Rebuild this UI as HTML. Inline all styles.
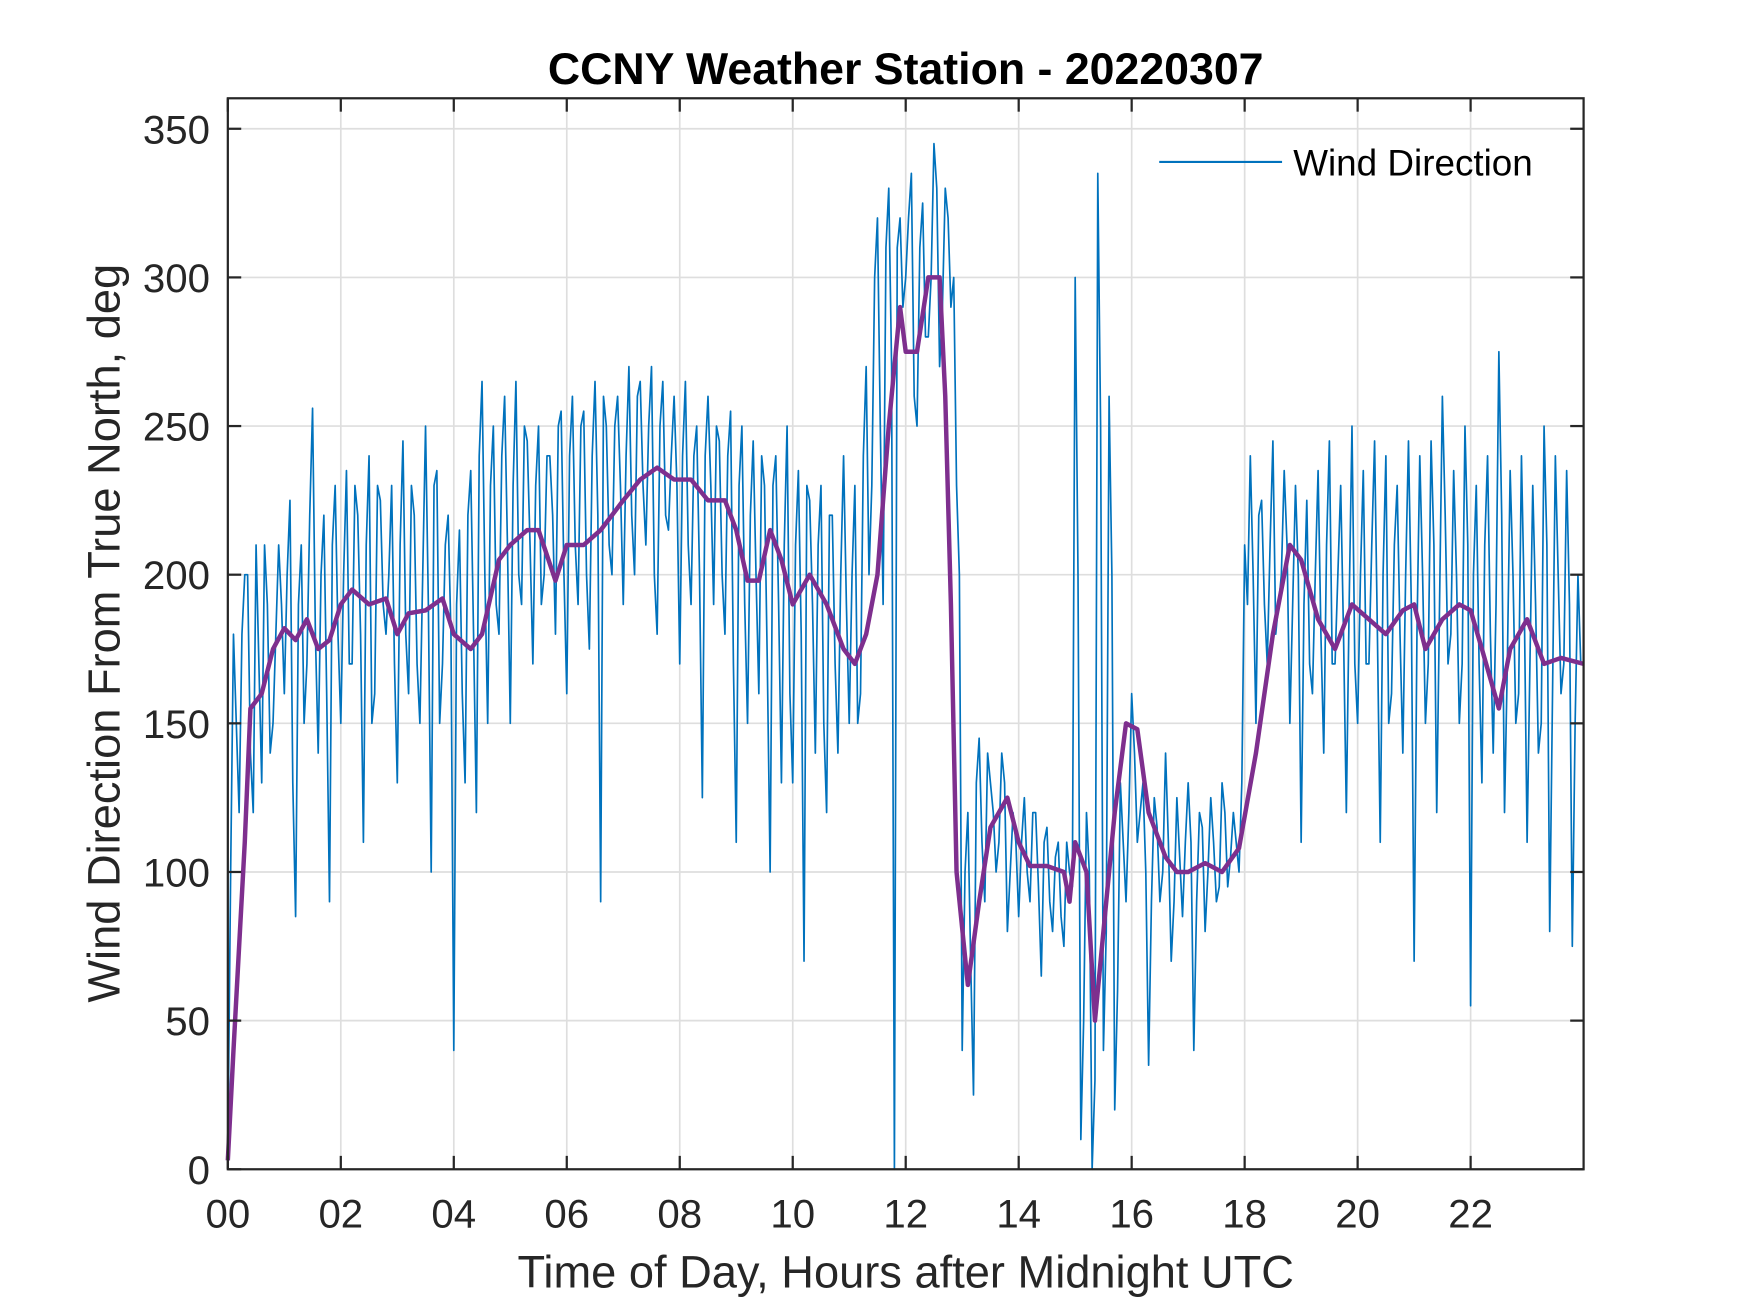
<!DOCTYPE html>
<html><head><meta charset="utf-8"><style>
html,body{margin:0;padding:0;background:#fff;}
svg{display:block;font-family:"Liberation Sans",Arial,sans-serif;}
</style></head><body>
<svg id="chart" width="1750" height="1313" viewBox="0 0 1567 1175.7" xmlns="http://www.w3.org/2000/svg">
<rect width="1567" height="1176" fill="#fff"/>
<g id="grid"></g>
<g id="series"></g>
<g id="axes"></g>
<text x="811" y="75" text-anchor="middle" font-size="40" font-weight="bold" fill="#000">CCNY Weather Station - 20220307</text>
<text x="811" y="1153" text-anchor="middle" font-size="40.5" fill="#262626">Time of Day, Hours after Midnight UTC</text>
<text transform="translate(107,567) rotate(-90)" text-anchor="middle" font-size="40.5" fill="#262626">Wind Direction From True North, deg</text>
<g>
<line x1="1038" y1="145" x2="1148" y2="145" stroke="#0072BD" stroke-width="2"/>
<text x="1158" y="157" font-size="33" fill="#000">Wind Direction</text>
</g>
</svg>
<script>
const xTicks = [0,2,4,6,8,10,12,14,16,18,20,22];
const xTickLabels = ["00","02","04","06","08","10","12","14","16","18","20","22"];
const yTicks = [0,50,100,150,200,250,300,350];
const rawStep = 0.1;
const rawValues = [
5,180,120,200,140,210,130,190,150,210,
160,225,85,210,170,256,140,220,90,230,
150,235,170,220,110,240,160,225,180,230,
130,245,160,220,150,250,100,235,170,220,
40,215,130,235,120,265,150,250,180,260,
150,265,190,245,170,250,200,240,180,255,
160,260,190,255,175,265,90,250,200,260,
190,270,200,265,210,270,180,265,215,260,
170,265,190,250,125,260,190,245,180,255,
110,250,150,245,160,230,100,240,130,250,
130,235,70,225,140,230,120,220,140,240,
150,230,160,270,230,320,190,330,0,320,
300,335,250,325,280,345,270,330,290,230,
40,120,25,145,90,130,100,140,80,120,
85,125,90,120,65,115,80,110,75,100,
300,10,120,0,335,40,260,20,130,90,
160,110,130,35,125,90,140,70,125,85,
130,40,120,80,125,90,130,95,120,100,
210,240,150,225,170,245,190,235,150,230,
110,225,160,235,140,245,170,230,120,250,
150,235,170,245,110,240,160,230,140,245,
70,240,150,245,120,260,170,235,150,250,
55,230,130,240,140,275,120,235,150,240,
110,230,140,250,80,240,160,235,75,200
];
const rawValuesMid = [
100,150,180,200,120,170,210,140,180,190,
200,130,190,150,220,180,200,160,210,180,
200,170,230,180,210,150,230,190,200,170,
210,180,230,170,200,190,230,150,210,180,
190,160,220,180,240,200,230,190,240,210,
230,200,250,210,230,190,240,220,250,200,
240,210,250,200,240,220,260,210,250,230,
240,220,260,230,250,200,250,220,240,230,
240,210,240,200,240,230,250,200,240,170,
230,190,220,200,240,170,230,190,210,160,
210,180,230,190,210,150,220,170,200,190,
200,150,240,200,300,250,310,270,310,290,
320,260,310,280,300,330,290,320,300,200,
100,70,130,110,140,120,110,130,100,110,
110,100,120,95,110,90,105,85,110,95,
200,50,100,30,250,80,200,60,110,120,
140,120,100,90,115,100,110,90,105,110,
110,90,115,100,110,95,120,105,110,130,
190,200,220,190,210,180,200,210,190,200,
190,170,200,180,210,170,200,180,190,170,
200,170,210,180,200,150,210,180,200,190,
180,200,170,210,190,220,180,200,170,210,
200,170,210,180,190,220,170,200,160,190,
170,190,150,210,160,200,170,190,150,170
];
const smoothHours = [0,0.1,0.3,0.4,0.6,0.8,1.0,1.2,1.4,1.6,1.8,2.0,2.2,2.5,2.8,3.0,3.2,3.5,3.8,4.0,4.3,4.5,4.8,5.0,5.3,5.5,5.8,6.0,6.3,6.6,7.0,7.3,7.6,7.9,8.2,8.5,8.8,9.0,9.2,9.4,9.6,9.8,10.0,10.3,10.6,10.9,11.1,11.3,11.5,11.7,11.9,12.0,12.2,12.4,12.6,12.7,12.8,12.9,13.1,13.3,13.5,13.8,14.0,14.2,14.5,14.8,14.9,15.0,15.2,15.35,15.5,15.7,15.9,16.1,16.3,16.6,16.8,17.0,17.3,17.6,17.9,18.2,18.5,18.8,19.0,19.3,19.6,19.9,20.2,20.5,20.8,21.0,21.2,21.5,21.8,22.0,22.2,22.5,22.7,23.0,23.3,23.6,24];
const smoothValues = [3,40,110,155,160,175,182,178,185,175,178,190,195,190,192,180,187,188,192,180,175,180,205,210,215,215,198,210,210,215,225,232,236,232,232,225,225,215,198,198,215,205,190,200,190,175,170,180,200,250,290,275,275,300,300,260,190,100,62,90,115,125,110,102,102,100,90,110,100,50,80,120,150,148,120,105,100,100,103,100,108,140,180,210,205,185,175,190,185,180,188,190,175,185,190,188,175,155,175,185,170,172,170];

const L=204,R=1418,T=88,B=1047;
const xs = h => L + (h/24)*(R-L);
const ys = v => B - (v/350)*(B-115.3);
const NS="http://www.w3.org/2000/svg";
function mk(tag, attrs, parent){const e=document.createElementNS(NS,tag);for(const k in attrs)e.setAttribute(k,attrs[k]);parent.appendChild(e);return e;}
const grid=document.getElementById('grid'), axes=document.getElementById('axes'), series=document.getElementById('series');
xTicks.forEach((t,i)=>{
  const x=xs(t);
  const g=mk('line',{x1:x,y1:T,x2:x,y2:B,stroke:'#dedede','stroke-width':1.5},grid);
  
  
  const a=mk('line',{x1:x,y1:B,x2:x,y2:B-12,stroke:'#262626','stroke-width':2},axes);
  
  
  const b=mk('line',{x1:x,y1:T,x2:x,y2:T+12,stroke:'#262626','stroke-width':2},axes);
  
  
  const tx=mk('text',{x:x,y:1099,'text-anchor':'middle','font-size':36,fill:'#262626'},axes);
  tx.textContent=xTickLabels[i];
  
  
});
yTicks.forEach(t=>{
  const y=ys(t);
  const g=mk('line',{x1:L,y1:y,x2:R,y2:y,stroke:'#dedede','stroke-width':1.5},grid);
  
  
  const a=mk('line',{x1:L,y1:y,x2:L+12,y2:y,stroke:'#262626','stroke-width':2},axes);
  
  
  const b=mk('line',{x1:R,y1:y,x2:R-12,y2:y,stroke:'#262626','stroke-width':2},axes);
  
  
  const tx=mk('text',{x:188,y:y+13,'text-anchor':'end','font-size':36,fill:'#262626'},axes);
  tx.textContent=t;
  
  
});
const box=mk('rect',{x:L,y:T,width:R-L,height:B-T,fill:'none',stroke:'#262626','stroke-width':2},axes);


const rawPtsArr=[];
rawValues.forEach((v,i)=>{
  rawPtsArr.push(xs(i*rawStep)+','+ys(v));
  if(i<rawValuesMid.length) rawPtsArr.push(xs(i*rawStep+rawStep/2)+','+ys(rawValuesMid[i]));
});
const raw=mk('polyline',{points:rawPtsArr.join(' '),fill:'none',stroke:'#0072BD','stroke-width':1.5,'stroke-linejoin':'round'},series);


const smPts=smoothHours.map((h,i)=>xs(h)+','+ys(smoothValues[i])).join(' ');
const sm=mk('polyline',{points:smPts,fill:'none',stroke:'#7E2F8E','stroke-width':4,'stroke-linejoin':'round'},series);


</script>
</body></html>
